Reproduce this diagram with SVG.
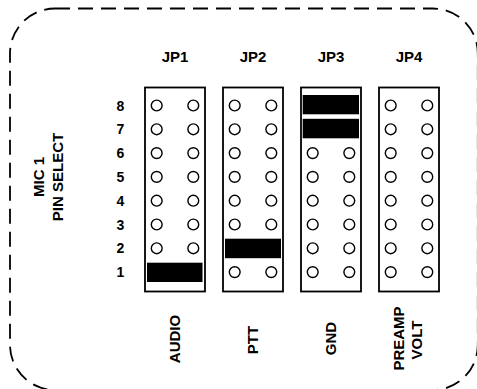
<svg xmlns="http://www.w3.org/2000/svg" width="477" height="389" viewBox="0 0 477 389">
<style>
.lbl{font-family:"Liberation Sans",Arial,sans-serif;font-weight:bold;font-size:15px;fill:#000}
.num{font-family:"Liberation Sans",Arial,sans-serif;font-weight:bold;font-size:14px;fill:#000}
.box{fill:#fff;stroke:#000;stroke-width:1.8}
.pin{fill:#fff;stroke:#000;stroke-width:1.4}
.jmp{fill:#000}
</style>
<defs>
<g id="pair"><circle class="pin" cx="-18.3" cy="0" r="5.4"/><circle class="pin" cx="18.3" cy="0" r="5.4"/></g>
</defs>
<rect x="10" y="8.5" width="467.8" height="381.5" rx="45" ry="45" fill="none" stroke="#000" stroke-width="1.8" stroke-dasharray="15 8"/>
<g id="sidelabel">
<text class="lbl" transform="translate(44,177) rotate(-90)" text-anchor="middle">MIC 1</text>
<text class="lbl" transform="translate(63.3,177) rotate(-90)" text-anchor="middle">PIN SELECT</text>
</g>
<g id="rownums">
<text class="num" x="120.5" y="110.5" text-anchor="middle">8</text>
<text class="num" x="120.5" y="134.3" text-anchor="middle">7</text>
<text class="num" x="120.5" y="158.1" text-anchor="middle">6</text>
<text class="num" x="120.5" y="181.9" text-anchor="middle">5</text>
<text class="num" x="120.5" y="205.7" text-anchor="middle">4</text>
<text class="num" x="120.5" y="229.5" text-anchor="middle">3</text>
<text class="num" x="120.5" y="253.3" text-anchor="middle">2</text>
<text class="num" x="120.5" y="277.1" text-anchor="middle">1</text>
</g>
<g id="JP1">
<text class="lbl" x="175" y="62.3" text-anchor="middle">JP1</text>
<rect class="box" x="145" y="87.5" width="60" height="204"/>
<use href="#pair" x="175" y="105.5"/>
<use href="#pair" x="175" y="129.3"/>
<use href="#pair" x="175" y="153.1"/>
<use href="#pair" x="175" y="176.9"/>
<use href="#pair" x="175" y="200.7"/>
<use href="#pair" x="175" y="224.5"/>
<use href="#pair" x="175" y="248.3"/>
<rect class="jmp" x="147" y="262.7" width="55.5" height="19.3"/>
<text class="lbl" transform="translate(180,339) rotate(-90)" text-anchor="middle">AUDIO</text>
</g>
<g id="JP2">
<text class="lbl" x="253" y="62.3" text-anchor="middle">JP2</text>
<rect class="box" x="223" y="87.5" width="60" height="204"/>
<use href="#pair" x="253" y="105.5"/>
<use href="#pair" x="253" y="129.3"/>
<use href="#pair" x="253" y="153.1"/>
<use href="#pair" x="253" y="176.9"/>
<use href="#pair" x="253" y="200.7"/>
<use href="#pair" x="253" y="224.5"/>
<rect class="jmp" x="225" y="238.7" width="56" height="19.5"/>
<use href="#pair" x="253" y="272.1"/>
<text class="lbl" transform="translate(257.7,340) rotate(-90)" text-anchor="middle">PTT</text>
</g>
<g id="JP3">
<text class="lbl" x="331" y="62.3" text-anchor="middle">JP3</text>
<rect class="box" x="301" y="87.5" width="60" height="204"/>
<rect class="jmp" x="302.7" y="95" width="56.3" height="19.3"/>
<rect class="jmp" x="302.7" y="118.8" width="56.3" height="19.5"/>
<use href="#pair" x="331" y="153.1"/>
<use href="#pair" x="331" y="176.9"/>
<use href="#pair" x="331" y="200.7"/>
<use href="#pair" x="331" y="224.5"/>
<use href="#pair" x="331" y="248.3"/>
<use href="#pair" x="331" y="272.1"/>
<text class="lbl" transform="translate(336.3,338.5) rotate(-90)" text-anchor="middle">GND</text>
</g>
<g id="JP4">
<text class="lbl" x="409" y="62.3" text-anchor="middle">JP4</text>
<rect class="box" x="379" y="87.5" width="60" height="204"/>
<use href="#pair" x="409" y="105.5"/>
<use href="#pair" x="409" y="129.3"/>
<use href="#pair" x="409" y="153.1"/>
<use href="#pair" x="409" y="176.9"/>
<use href="#pair" x="409" y="200.7"/>
<use href="#pair" x="409" y="224.5"/>
<use href="#pair" x="409" y="248.3"/>
<use href="#pair" x="409" y="272.1"/>
<text class="lbl" transform="translate(403.7,338.5) rotate(-90)" text-anchor="middle">PREAMP</text>
<text class="lbl" transform="translate(422,340) rotate(-90)" text-anchor="middle">VOLT</text>
</g>
<g id="connectors"/>
</svg>
